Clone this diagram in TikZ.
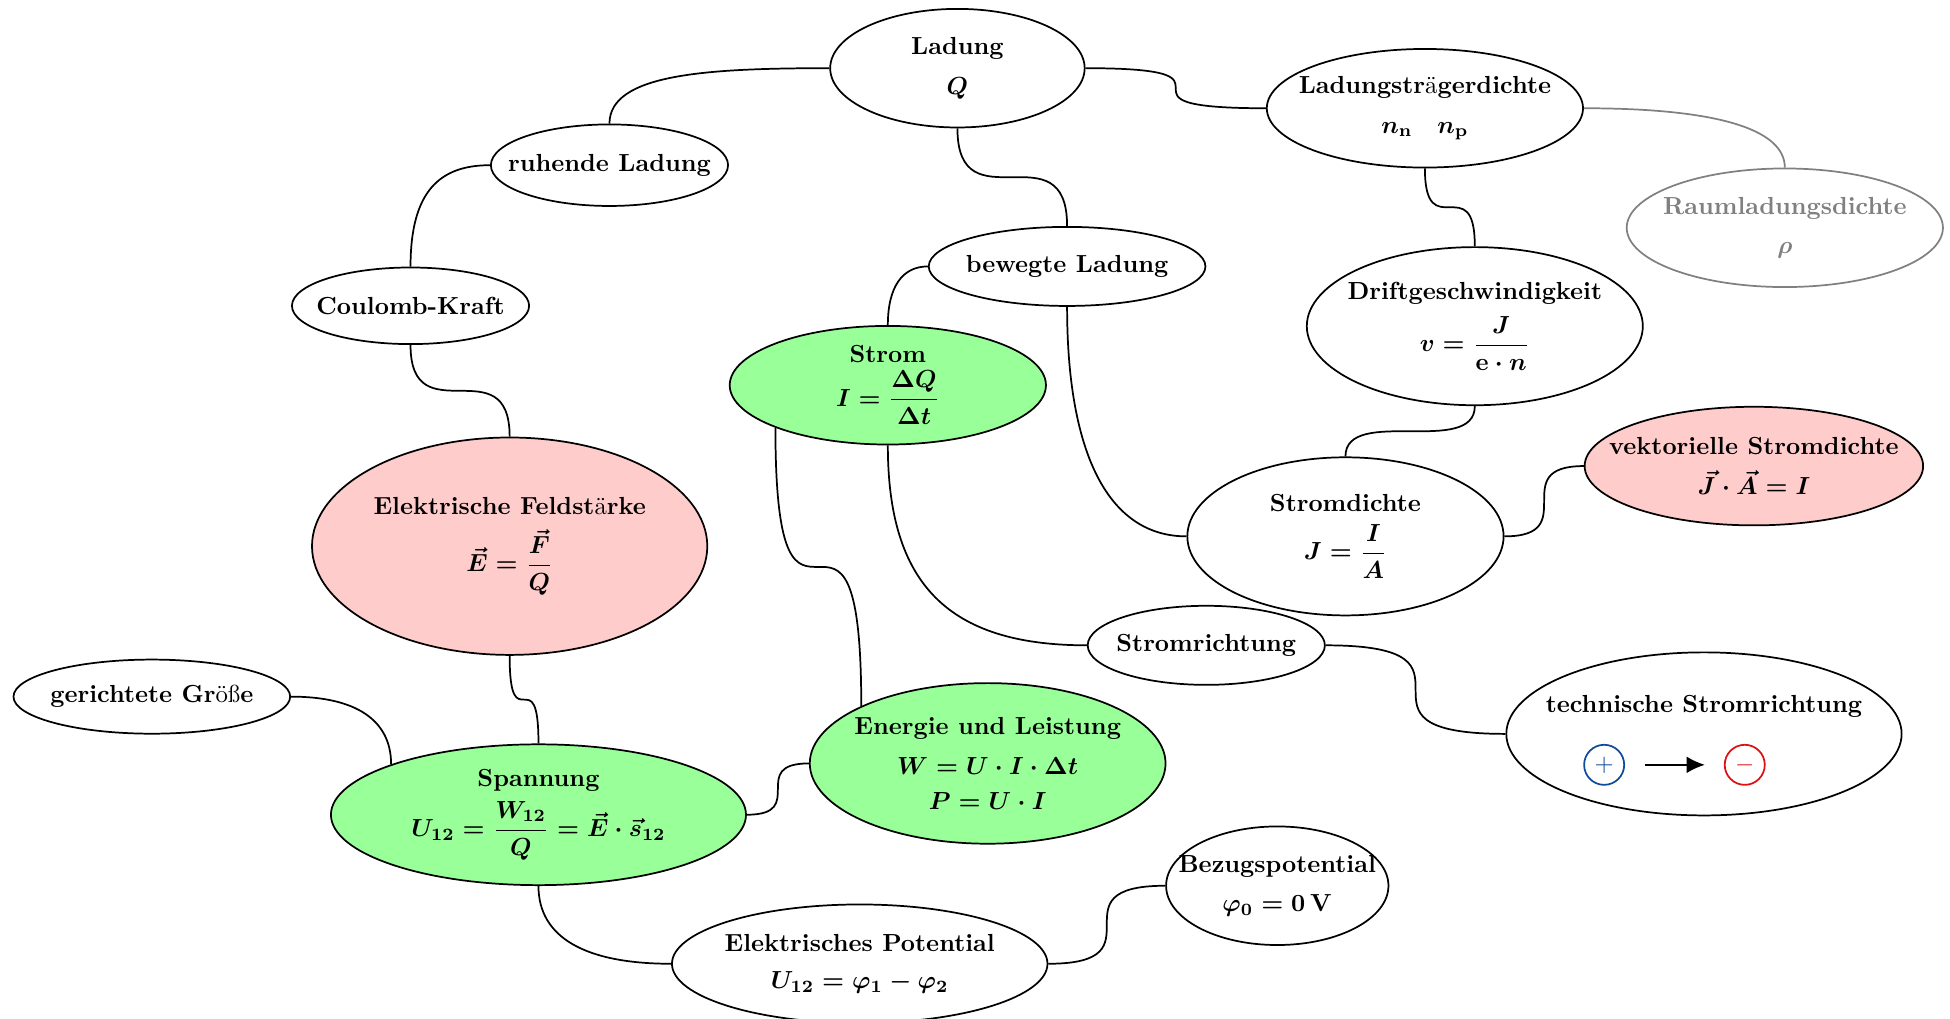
\documentclass[tikz,border=0pt]{standalone}
\usepackage{amsmath}
\usetikzlibrary{shapes.geometric,arrows.meta}

\definecolor{plusblue}{RGB}{16,76,156}
\definecolor{minusred}{RGB}{222,16,16}
% umlauts come out in the light face in the source picture
\newcommand{\lightch}[1]{{\mdseries #1}}

\begin{document}
\begin{tikzpicture}[
    concept/.style={ellipse, draw, line width=0.7pt, fill=white, inner sep=0pt},
    hot/.style={concept, fill=red!20},
    key/.style={concept, fill=green!40},
    faded/.style={concept, draw=gray},
    pole/.style={circle, line width=0.7pt, minimum size=0.57cm, inner sep=0pt},
    link/.style={line width=0.7pt},
    every label/.style={align=center, font=\bfseries\boldmath},
  ]
  \useasboundingbox (0,0) rectangle (27.74,-14.49);

  % left branch: charge at rest
  \node[concept, minimum width=103pt, minimum height=48pt,
    label={center:{Ladung\\[4pt]$Q$}}] (ladung) at (13.62,-0.97) {};
  \node[concept, minimum width=96pt, minimum height=33pt,
    label={center:{ruhende Ladung}}] (ruhend) at (8.67,-2.35) {};
  \node[concept, minimum width=96pt, minimum height=31pt,
    label={center:{Coulomb-Kraft}}] (coulomb) at (5.84,-4.35) {};
  \node[hot, minimum width=160pt, minimum height=88pt,
    label={center:{Elektrische Feldst\lightch{ä}rke\\[5pt]$\vec{E} = \dfrac{\vec{F}}{Q}$}}] (feld) at (7.25,-7.77) {};
  \node[concept, minimum width=112pt, minimum height=30pt,
    label={center:{gerichtete Gr\lightch{öß}e}}] (gerichtet) at (2.16,-9.91) {};
  \node[key, minimum width=168pt, minimum height=57pt,
    label={center:{Spannung\\[3pt]$U_{12} = \dfrac{W_{12}}{Q} = \vec{E}\cdot\vec{s}_{12}$}}] (spannung) at (7.66,-11.59) {};
  \node[concept, minimum width=152pt, minimum height=48pt,
    label={center:{Elektrisches Potential\\[3pt]$U_{12} = \varphi_1 - \varphi_2$}}] (potential) at (12.23,-13.71) {};
  \node[concept, minimum width=90pt, minimum height=48pt,
    label={center:{Bezugspotential\\[4pt]$\varphi_0 = 0\,\mathrm{V}$}}] (bezug) at (18.17,-12.60) {};
  \node[key, minimum width=144pt, minimum height=65pt,
    label={center:{Energie und Leistung\\[4pt]$W = U\cdot I\cdot\Delta t$\\[2pt]$P = U\cdot I$}}] (energie) at (14.05,-10.86) {};

  % middle branch: moving charge
  \node[concept, minimum width=112pt, minimum height=32pt,
    label={center:{bewegte Ladung}}] (bewegt) at (15.18,-3.79) {};
  \node[key, minimum width=128pt, minimum height=48pt,
    label={center:{Strom\\[2pt]$I = \dfrac{\Delta Q}{\Delta t}$}}] (strom) at (12.63,-5.48) {};
  \node[concept, minimum width=96pt, minimum height=32pt,
    label={center:{Stromrichtung}}] (richtung) at (17.16,-9.18) {};
  \node[concept, minimum width=160pt, minimum height=66pt,
    label={[yshift=0.39cm]center:{technische Stromrichtung}}] (technisch) at (24.24,-10.44) {};
  \node[pole, draw=plusblue, text=plusblue] (plus)
    at ([xshift=-1.42cm,yshift=-0.44cm]technisch.center) {$+$};
  \node[pole, draw=minusred, text=minusred] (minus)
    at ([xshift=0.58cm,yshift=-0.44cm]technisch.center) {$-$};

  % right branch: densities
  \node[concept, minimum width=128pt, minimum height=48pt,
    label={center:{Ladungstr\lightch{ä}gerdichte\\[4pt]$n_{\mathrm{n}}\quad n_{\mathrm{p}}$}}] (traeger) at (20.27,-1.54) {};
  \node[faded, minimum width=128pt, minimum height=48pt,
    label={[text=gray]center:{Raumladungsdichte\\[4pt]$\rho$}}] (raum) at (25.39,-3.24) {};
  \node[concept, minimum width=136pt, minimum height=64pt,
    label={center:{Driftgeschwindigkeit\\[4pt]$v = \dfrac{J}{\mathrm{e}\cdot n}$}}] (drift) at (20.98,-4.64) {};
  \node[concept, minimum width=128pt, minimum height=64pt,
    label={center:{Stromdichte\\[4pt]$J = \dfrac{I}{A}$}}] (dichte) at (19.14,-7.63) {};
  \node[hot, minimum width=137pt, minimum height=48pt,
    label={center:{vektorielle Stromdichte\\[4pt]$\vec{J}\cdot\vec{A} = I$}}] (vektor) at (24.95,-6.63) {};

  % connections
  \draw[link] (ladung.west) to[out=180,in=90,out looseness=1.39,in looseness=0.56] (ruhend.north);
  \draw[link] (ruhend.west) to[out=180,in=90,out looseness=1,in looseness=1.5] (coulomb.north);
  \draw[link] (coulomb.south) to[out=-90,in=90,looseness=1.72] (feld.north);
  \draw[link] (feld.south) to[out=-90,in=90,looseness=2.43] (spannung.north);
  \draw[link] (gerichtet.east) to[out=0,in=90,out looseness=1.38,in looseness=0.93] (spannung.north west);
  \draw[link] (spannung.east) to[out=0,in=180,looseness=1.96] (energie.west);
  \draw[link] (spannung.south) to[out=-90,in=180,out looseness=0.86,in looseness=1.42] (potential.west);
  \draw[link] (potential.east) to[out=0,in=180,looseness=2.12] (bezug.west);
  \draw[link] (ladung.south) to[out=-90,in=90,looseness=1.72] (bewegt.north);
  \draw[link] (strom.north) to[out=90,in=180,out looseness=1.38,in looseness=0.92] (bewegt.west);
  \draw[link] (strom.south west) to[out=-90,in=90,looseness=2.45] (energie.north west);
  \draw[link] (strom.south) to[out=-90,in=180,looseness=1.26] (richtung.west);
  \draw[link] (richtung.east) to[out=0,in=180,looseness=2.29] (technisch.west);
  \draw[link] (bewegt.south) to[out=-90,in=180,out looseness=1.47,in looseness=0.76] (dichte.west);
  \draw[link] (ladung.east) to[out=0,in=180,looseness=2.49] (traeger.west);
  \draw[link, gray] (traeger.east) to[out=0,in=90,out looseness=1.59,in looseness=0.48] (raum.north);
  \draw[link] (traeger.south) to[out=-90,in=90,looseness=2.17] (drift.north);
  \draw[link] (drift.south) to[out=-90,in=90,looseness=0.94] (dichte.north);
  \draw[link] (dichte.east) to[out=0,in=180,looseness=1.91] (vektor.west);
  \draw[-{Latex[length=2.6mm,width=2.4mm]}, line width=0.8pt,
    shorten <=0.28cm, shorten >=0.27cm] (plus) -- (minus);
\end{tikzpicture}
\end{document}
